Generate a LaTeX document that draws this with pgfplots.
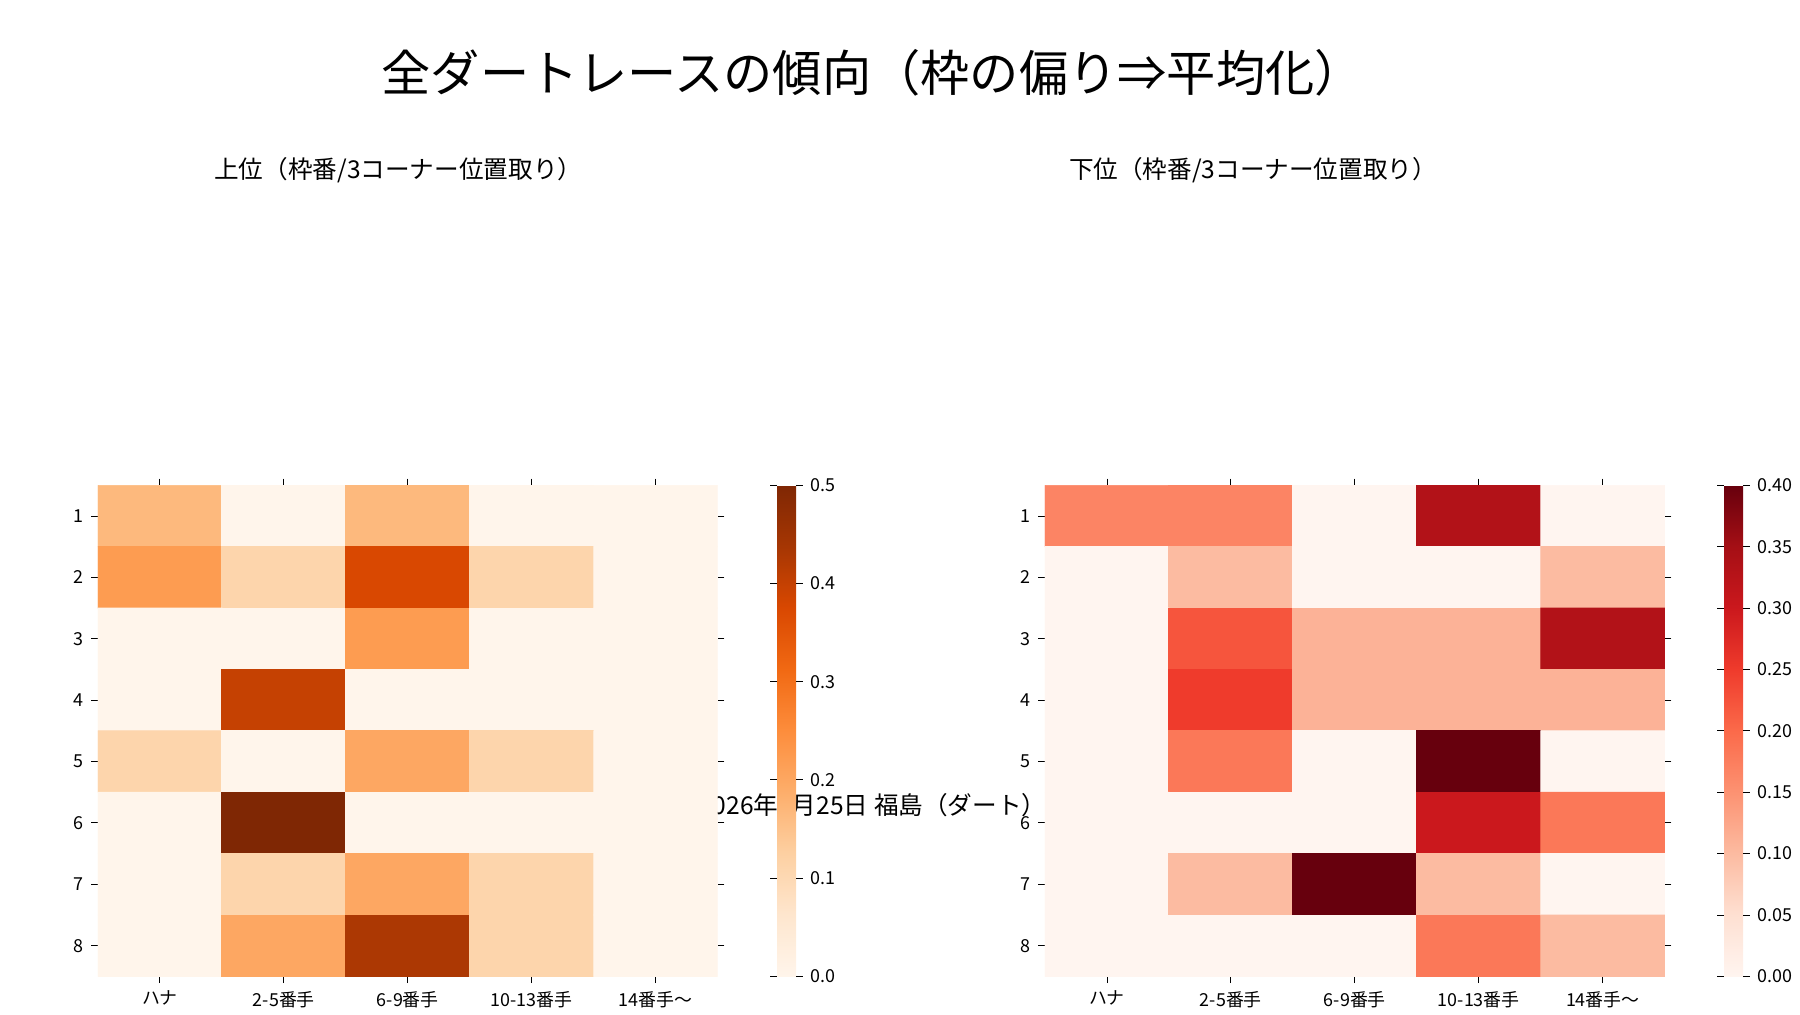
\documentclass[border=0pt]{standalone}
\usepackage{pgfplots}
\usepackage{pgfplotstable}
\pgfplotsset{compat=1.18}
\usepackage{fontspec}
\setmainfont{Noto Sans CJK JP}
\pgfplotstableread{
x y c
0 1 0.167
1 1 0
2 1 0.167
3 1 0
4 1 0
0 2 0.222
1 2 0.111
2 2 0.375
3 2 0.111
4 2 0
0 3 0
1 3 0
2 3 0.222
3 3 0
4 3 0
0 4 0
1 4 0.4
2 4 0
3 4 0
4 4 0
0 5 0.111
1 5 0
2 5 0.2
3 5 0.111
4 5 0
0 6 0
1 6 0.5
2 6 0
3 6 0
4 6 0
0 7 0
1 7 0.111
2 7 0.2
3 7 0.111
4 7 0
0 8 0
1 8 0.2
2 8 0.43
3 8 0.111
4 8 0
}\uptab
\pgfplotstableread{
x y c
0 1 0.167
1 1 0.167
2 1 0
3 1 0.333
4 1 0
0 2 0
1 2 0.1
2 2 0
3 2 0
4 2 0.1
0 3 0
1 3 0.222
2 3 0.111
3 3 0.111
4 3 0.333
0 4 0
1 4 0.25
2 4 0.111
3 4 0.111
4 4 0.111
0 5 0
1 5 0.182
2 5 0
3 5 0.4
4 5 0
0 6 0
1 6 0
2 6 0
3 6 0.3
4 6 0.182
0 7 0
1 7 0.1
2 7 0.4
3 7 0.1
4 7 0
0 8 0
1 8 0
2 8 0
3 8 0.182
4 8 0.1
}\lowtab
\pgfplotsset{
  colormap={oranges}{rgb255=(255,245,235) rgb255=(254,230,206) rgb255=(253,208,162) rgb255=(253,174,107) rgb255=(253,141,60) rgb255=(241,105,19) rgb255=(217,72,1) rgb255=(166,54,3) rgb255=(127,39,4)},
  colormap={reds}{rgb255=(255,245,240) rgb255=(254,224,210) rgb255=(252,187,161) rgb255=(252,146,114) rgb255=(251,106,74) rgb255=(239,59,44) rgb255=(203,24,29) rgb255=(165,15,21) rgb255=(103,0,13)},
  hm/.style={
    scale only axis, width=277pt, height=219.5pt,
    xmin=-0.5, xmax=4.5, ymin=0.5, ymax=8.5, y dir=reverse,
    axis line style={draw=none},
    xtick={0,...,4}, xticklabels={ハナ,2-5番手,6-9番手,10-13番手,14番手〜},
    ytick={1,...,8},
    tick align=outside, major tick length=3pt, tick style={black, line width=0.4pt},
    ticklabel style={font=\fontsize{8}{9}\selectfont},
    /pgf/number format/assume math mode=true,
    enlargelimits=false,
    colorbar,
    colorbar style={at={(parent axis.north east)}, anchor=north west, xshift=18pt, width=8.5pt,
      axis line style={draw=none}, tick align=outside, major tick length=3pt,
      yticklabel style={font=\fontsize{8}{9}\selectfont, /pgf/number format/fixed, /pgf/number format/fixed zerofill},
      /pgf/number format/assume math mode=true},
  }
}
\begin{document}
\begin{tikzpicture}[x=0.5pt,y=0.5pt]
\path (0,0) rectangle (1560,780);
\node at (780,715) {\fontsize{22}{26}\selectfont 全ダートレースの傾向（枠の偏り⇒平均化）};
\node at (356,628) {\fontsize{11}{13}\selectfont 上位（枠番/3コーナー位置取り）};
\node at (1120,628) {\fontsize{11}{13}\selectfont 下位（枠番/3コーナー位置取り）};
\node at (780,60) {\fontsize{11}{13}\selectfont 2026年4月25日 福島（ダート）};
\begin{axis}[hm, at={(79,169)}, anchor=south west, colormap name=oranges, point meta min=0, point meta max=0.5,
  colorbar style={ytick={0,0.1,...,0.5}, yticklabel style={/pgf/number format/precision=1}}]
\addplot[matrix plot*, mesh/cols=5, point meta=explicit, shader=flat corner] table[x=x,y=y,meta=c]{\uptab};
\end{axis}
\begin{axis}[hm, at={(843,169)}, anchor=south west, colormap name=reds, point meta min=0, point meta max=0.4,
  colorbar style={ytick={0,0.05,...,0.41}, yticklabel style={/pgf/number format/precision=2}}]
\addplot[matrix plot*, mesh/cols=5, point meta=explicit, shader=flat corner] table[x=x,y=y,meta=c]{\lowtab};
\end{axis}
\end{tikzpicture}
\end{document}
